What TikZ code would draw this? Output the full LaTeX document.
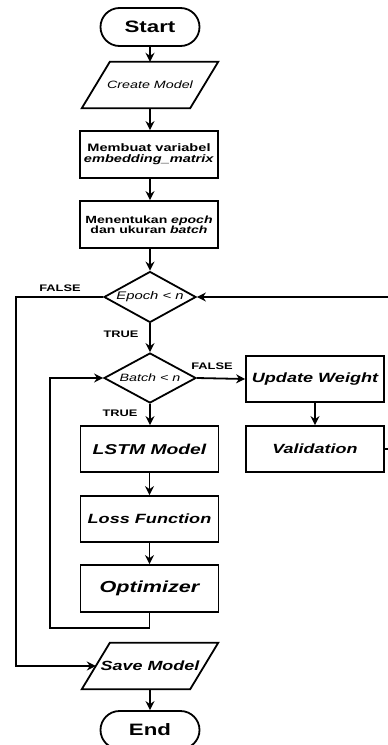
\documentclass[tikz,border=0pt]{standalone}
\usepackage{fontspec}
\setmainfont[FakeStretch=1.35]{Liberation Sans}
\usetikzlibrary{arrows.meta,shapes.geometric}
\newcommand\fsz[1]{\fontsize{#1}{#1}\selectfont}
\tikzset{
 base/.style={draw, line width=1.8pt, fill=white, text=black, align=center, inner sep=0pt},
 proc/.style={base, rectangle, minimum width=138pt, minimum height=46pt},
 term/.style={base, rectangle, rounded corners=19pt, minimum width=99pt, minimum height=38pt},
 dec/.style={base, diamond, aspect=1.8, minimum width=92pt, minimum height=51pt},
 iotext/.style={inner sep=0pt, minimum width=108pt, minimum height=46pt, align=center},
 para/.style={draw, line width=1.8pt, fill=white},
 arr/.style={line width=1.8pt, -{Stealth[length=9pt,width=9pt,inset=3pt]}},
 lbl/.style={font=\fsz{9.5}\bfseries, inner sep=0pt}
}
\begin{document}
\begin{tikzpicture}[x=1pt,y=-1pt]
\useasboundingbox (0,0) rectangle (388,745);
% nodes
\node[term, font=\fsz{16.5}\bfseries] (start) at (150,27) {Start};
\node[iotext] (create) at (150,85) {};
\draw[para] ([xshift=14pt]create.north west) -- ([xshift=14pt]create.north east) -- ([xshift=-14pt]create.south east) -- ([xshift=-14pt]create.south west) -- cycle;
\node[font=\fsz{10.6}\itshape] at (create) {Create Model};
\node[proc, minimum height=47pt, font=\fsz{10.8}\bfseries, align=center] (emb) at (149,154.5) {Membuat variabel\\[0pt]\textit{embedding\_matrix}};
\node[proc, minimum height=47pt, font=\fsz{10.4}\bfseries, align=center] (epset) at (149,224.5) {Menentukan \textit{epoch}\\[0pt]dan ukuran \textit{batch}};
\node[dec, font=\fsz{11}\itshape] (epoch) at (150,297) {Epoch {<} n};
\node[dec, minimum height=50pt, font=\fsz{10.6}\itshape] (batch) at (150,378) {Batch {<} n};
\node[proc, font=\fsz{13.4}\bfseries\itshape] (update) at (315,379) {Update Weight};
\node[proc, font=\fsz{13.3}\bfseries\itshape] (valid) at (315,449) {Validation};
\node[proc, font=\fsz{14.3}\bfseries\itshape] (lstm) at (149.5,449) {LSTM Model};
\node[proc, font=\fsz{13.4}\bfseries\itshape] (loss) at (149.5,519) {Loss Function};
\node[proc, minimum height=47pt, font=\fsz{16}\bfseries\itshape] (optim) at (149.5,588.5) {Optimizer};
\node[iotext] (save) at (150,666) {};
\draw[para] ([xshift=14pt]save.north west) -- ([xshift=14pt]save.north east) -- ([xshift=-14pt]save.south east) -- ([xshift=-14pt]save.south west) -- cycle;
\node[font=\fsz{13.3}\bfseries\itshape] at (save) {Save Model};
\node[term, font=\fsz{16.5}\bfseries] (end) at (150,730) {End};
% labels
\node[lbl] (f1) at (60,288) {FALSE};
\node[lbl] (t1) at (121,334) {TRUE};
\node[lbl] (f2) at (212,366) {FALSE};
\node[lbl] (t2) at (120,413) {TRUE};
% connectors
\draw[arr] (start) -- (create);
\draw[arr] (create) -- (emb.north -| create);
\draw[arr] (emb.south -| create) -- (epset.north -| create);
\draw[arr] (epset.south -| epoch) -- (epoch.north);
\draw[arr] (epoch.south) -- (batch.north);
\draw[arr] (batch.east) -- (update.west);
\draw[arr] (update) -- (valid);
\draw[arr] (batch.south) -- (lstm.north -| batch);
\draw[arr] (lstm) -- (loss);
\draw[arr] (loss) -- (optim);
\draw[arr] (optim.south) -- ++(0,15) -| ([xshift=-53pt]batch.west) -- (batch.west);
\draw[arr] (epoch.west) -- ++(-87,0) |- (save.west);
\draw[arr] (valid.east) -- ++(20,0) |- (epoch.east);
\draw[arr] (save.south) -- (end.north);
\end{tikzpicture}
\end{document}
